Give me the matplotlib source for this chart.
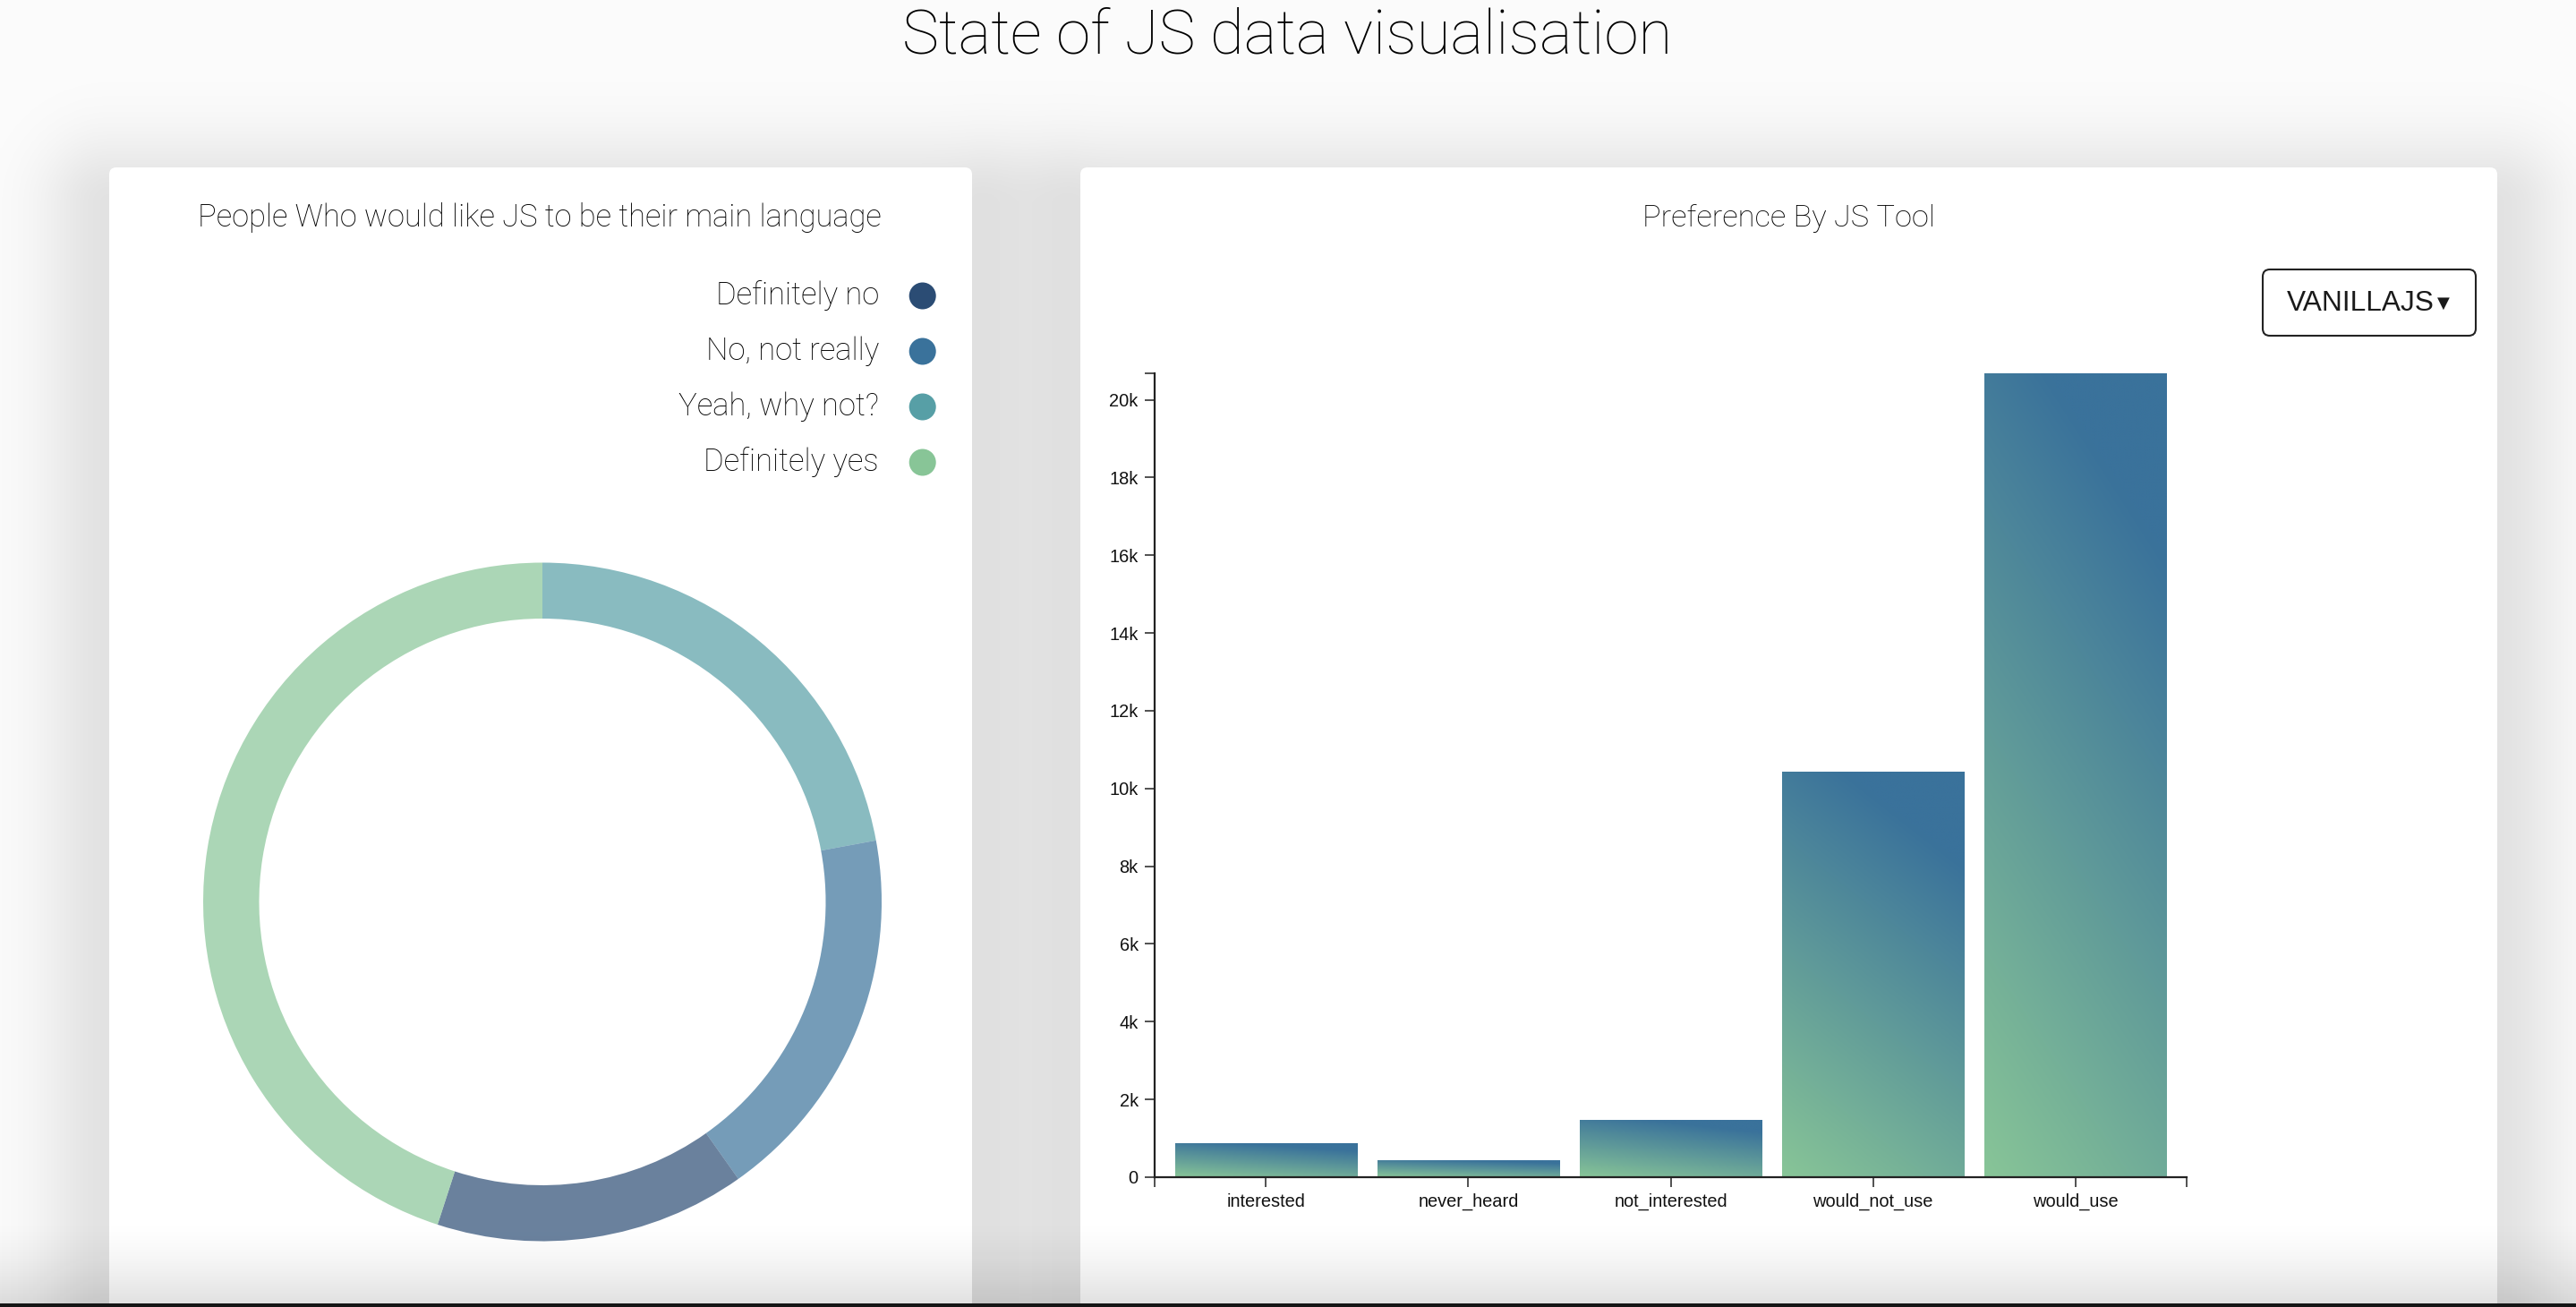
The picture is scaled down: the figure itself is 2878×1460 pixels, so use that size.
import numpy as np
import matplotlib
matplotlib.use("Agg")
import matplotlib.pyplot as plt
from matplotlib.patches import FancyBboxPatch, Rectangle, Circle
from matplotlib.colors import to_rgb, to_rgba

# ---------------- data ----------------
page_title = "State of JS data visualisation"
donut_title = "People Who would like JS to be their main language"
bar_title = "Preference By JS Tool"
tool_name = "VANILLAJS"

answer_labels = ["Definitely no", "No, not really", "Yeah, why not?", "Definitely yes"]
answer_shares = [14.8, 18.1, 22.1, 45.0]
answer_colors = ["#2b4c74", "#3a729b", "#579fa6", "#88c597"]
pie_order = [2, 1, 0, 3]                            # clockwise from 12 o'clock

categories = ["interested", "never_heard", "not_interested", "would_not_use", "would_use"]
counts = [875, 440, 1480, 10430, 20680]
ytick_values = [0, 2000, 4000, 6000, 8000, 10000, 12000, 14000, 16000, 18000, 20000]
ytick_labels = ["0", "2k", "4k", "6k", "8k", "10k", "12k", "14k", "16k", "18k", "20k"]

# ---------------- figure ----------------
W, H = 2878, 1460
fig = plt.figure(figsize=(W / 100, H / 100), dpi=100)
fig.patch.set_facecolor("#fbfbfb")
bg = fig.add_axes([0, 0, 1, 1])
bg.set_xlim(0, W)
bg.set_ylim(H, 0)
bg.axis("off")
bg.set_zorder(0)

LIGHT = dict(family=["Roboto", "Lato", "DejaVu Sans"], fontweight="light")
HELV = ["Liberation Sans", "DejaVu Sans"]
TXT = "#000000"

cards = [(122, 187, 964, 1320), (1207, 187, 1583, 1320)]

# soft drop shadows, computed as one alpha image
step = 4
gx = np.arange(0, W, step) + step / 2
gy = np.arange(0, H, step) + step / 2
X, Y = np.meshgrid(gx, gy)
keep = np.ones_like(X)
for (x, y, w, h) in cards:
    off = 40
    dx = np.maximum.reduce([x - X, np.zeros_like(X), X - (x + w)])
    dy = np.maximum.reduce([y + off - Y, np.zeros_like(Y), Y - (y + off + h)])
    d = np.hypot(dx, dy)
    a = 0.10 * np.exp(-(d / 75.0) ** 2)
    keep *= (1 - a)
sh = np.zeros(X.shape + (4,))
sh[..., 3] = 1 - keep
bg.imshow(sh, extent=(0, W, H, 0), origin="upper", aspect="auto", zorder=1,
          interpolation="bilinear")

for (x, y, w, h) in cards:
    bg.add_patch(FancyBboxPatch((x, y), w, h, boxstyle="round,pad=0,rounding_size=8",
                                fc="white", ec="none", zorder=2))

# bottom fade
fade = np.zeros((100, 1, 4))
fade[..., 3] = 0.12 * np.linspace(0, 1, 100)[:, None] ** 1.5
bg.imshow(fade, extent=(0, W, 1456, 1360), origin="upper", aspect="auto", zorder=3,
          interpolation="bilinear")
bg.add_patch(Rectangle((0, 1456), W, 6, fc="#151515", ec="none", zorder=4))
bg.set_xlim(0, W)
bg.set_ylim(H, 0)

renderer = fig.canvas.get_renderer()


def fit(t, target_w):
    bb = t.get_window_extent(renderer)
    t.set_fontsize(t.get_fontsize() * target_w / bb.width)


t = bg.text(1438.5, 60, page_title, ha="center", va="baseline", fontsize=45, color=TXT, zorder=5, **LIGHT)
fit(t, 861)
t = bg.text(603, 253, donut_title, ha="center", va="baseline", fontsize=21, color=TXT, zorder=5, **LIGHT)
fit(t, 764)
t = bg.text(1998, 253, bar_title, ha="center", va="baseline", fontsize=21, color=TXT, zorder=5, **LIGHT)
fit(t, 326)

# legend
leg_base = [340, 402, 464, 526]
leg_texts = []
for lab, yb in zip(answer_labels, leg_base):
    leg_texts.append(bg.text(982, yb, lab, ha="right", va="baseline", fontsize=22,
                             color=TXT, zorder=5, **LIGHT))
bb = leg_texts[0].get_window_extent(renderer)
fs = 22 * 182 / bb.width
for lt in leg_texts:
    lt.set_fontsize(fs)
for c, yb in zip(answer_colors, leg_base):
    bg.add_patch(Circle((1030.7, yb - 9.5), 15, fc=c, ec="none", zorder=5))

# dropdown button
bg.add_patch(FancyBboxPatch((2528, 301), 238, 74, boxstyle="round,pad=0,rounding_size=8",
                            fc="white", ec="#222", lw=1.5, zorder=5))
t = bg.text(2555, 347, tool_name, ha="left", va="baseline", fontsize=24,
            color="#1a1a1a", family=HELV, zorder=6)
fit(t, 165)
t2 = bg.text(2730, 339, "\u25BC", ha="center", va="center", fontsize=13,
             color="#1a1a1a", family=["DejaVu Sans"], zorder=6)

# ---------------- donut ----------------
cx, cy, R = 606, 1007.5, 379
axd = fig.add_axes([(cx - R) / W, (H - cy - R) / H, 2 * R / W, 2 * R / H])
axd.set_zorder(2)
axd.pie([answer_shares[i] for i in pie_order],
        colors=[to_rgba(answer_colors[i], 0.7) for i in pie_order],
        startangle=90, counterclock=False, radius=1,
        wedgeprops=dict(width=1 - 316.5 / 379, linewidth=0))
axd.set_xlim(-1, 1)
axd.set_ylim(-1, 1)
axd.set_aspect("equal")
axd.patch.set_alpha(0)

# ---------------- bars ----------------
x0, x1, y0, y1 = 1290, 2443, 1315, 417
axb = fig.add_axes([x0 / W, (H - y0) / H, (x1 - x0) / W, (y0 - y1) / H])
axb.set_zorder(2)
axb.patch.set_alpha(0)
xs = np.arange(len(categories))
bars = axb.bar(xs, counts, width=0.9, color="none", edgecolor="none", zorder=2)

green = np.array(to_rgb("#88c597"))
blue = np.array(to_rgb("#3a729b"))
ny, nx = 300, 80
u = np.linspace(0, 1, nx)[None, :]
v = np.linspace(0, 1, ny)[:, None]
tt = np.clip((0.35 * u + (1 - v)) / 1.12, 0, 1)
grad = green[None, None, :] * (1 - tt[..., None]) + blue[None, None, :] * tt[..., None]
for rect in bars:
    bx, bw, bh = rect.get_x(), rect.get_width(), rect.get_height()
    im = axb.imshow(grad, extent=(bx, bx + bw, 0, bh), origin="upper", aspect="auto",
                    interpolation="bilinear", zorder=2)
    im.set_clip_path(rect)

axb.set_xlim(-0.55, len(categories) - 0.45)
axb.set_ylim(0, max(counts))
for s in ["top", "right"]:
    axb.spines[s].set_visible(False)
for s in ["left", "bottom"]:
    axb.spines[s].set_linewidth(1.6)
    axb.spines[s].set_color("#222")
    axb.spines[s].set_zorder(4)
axb.set_yticks(ytick_values)
axb.set_yticklabels(ytick_labels)
axb.set_xticks(xs)
axb.set_xticklabels(categories)
axb.set_yticks([max(counts)], minor=True)
axb.set_xticks([-0.55, len(categories) - 0.45], minor=True)
axb.tick_params(which="both", length=8.2, width=1.2, color="#333", labelsize=14.4,
                labelcolor="#111", pad=5)
axb.tick_params(axis="x", pad=4.5)
for lab in axb.get_xticklabels() + axb.get_yticklabels():
    lab.set_family(HELV)

fig.savefig("out.png", dpi=100, facecolor=fig.get_facecolor())
